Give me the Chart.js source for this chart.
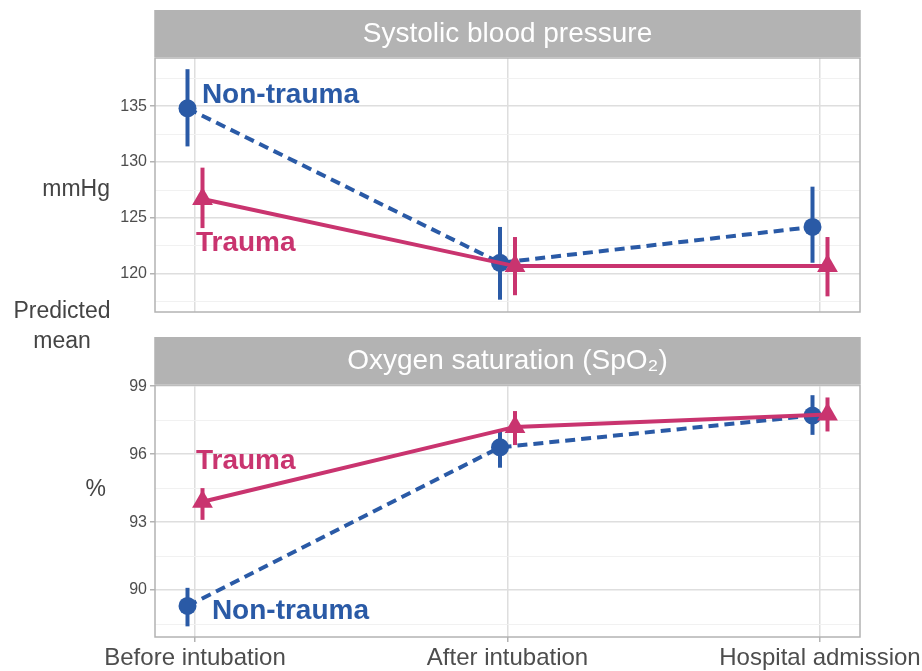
<!DOCTYPE html>
<html>
<head>
<meta charset="utf-8">
<script src="https://cdn.jsdelivr.net/npm/chart.js@4.4.1/dist/chart.umd.min.js"></script>
<style>
    html, body { margin: 0; padding: 0; background: #fff; }
    #wrap { position: relative; width: 922px; height: 671px; }
    #wrap canvas { position: absolute; left: 0; top: 0; }
</style>
</head>
<body>
<div id="wrap">
    <canvas id="sbpChart" width="922" height="671"></canvas>
    <canvas id="spo2Chart" width="922" height="671"></canvas>
</div>
<script>
// ==================== DATA ====================
const timepoints = ['Before intubation', 'After intubation', 'Hospital admission'];

// systolic blood pressure (mmHg)
const sbpNonTrauma   = [134.8, 121.0, 124.2];
const sbpNonTraumaLo = [131.4, 117.7, 121.0];
const sbpNonTraumaHi = [138.3, 124.2, 127.8];
const sbpTrauma      = [126.7, 120.7, 120.7];
const sbpTraumaLo    = [124.1, 118.1, 118.0];
const sbpTraumaHi    = [129.5, 123.3, 123.3];
const sbpTicks       = [120, 125, 130, 135];
const sbpMinorTicks  = [117.5, 122.5, 127.5, 132.5, 137.5];

// oxygen saturation (%)
const spo2NonTrauma   = [89.3, 96.3, 97.7];
const spo2NonTraumaLo = [88.4, 95.4, 96.85];
const spo2NonTraumaHi = [90.1, 97.1, 98.6];
const spo2Trauma      = [93.9, 97.2, 97.75];
const spo2TraumaLo    = [93.1, 96.4, 97.0];
const spo2TraumaHi    = [94.5, 97.9, 98.5];
const spo2Ticks       = [90, 93, 96, 99];
const spo2MinorTicks  = [88.5, 91.5, 94.5, 97.5];

// ==================== STYLE ====================
const BLUE = '#2A5AA6';
const PINK = '#C9346F';
const FONT = '"Liberation Sans", Arial, sans-serif';
const DODGE = 0.024;
const X_MIN = -0.128, X_MAX = 2.128;

// -------------------- helpers --------------------
function series(label, vals, lo, hi, color, style, radius, offset, dashed) {
    return {
        label: label,
        data: vals.map((v, i) => ({ x: i + offset, y: v })),
        errLo: lo, errHi: hi, offset: offset,
        showLine: true,
        borderColor: color,
        backgroundColor: color,
        borderWidth: 4,
        borderDash: dashed ? [10, 6] : [],
        pointStyle: style,
        pointRadius: radius,
        pointHoverRadius: radius,
        pointBorderWidth: 0,
        clip: false
    };
}

function yScale(min, max, major, minor) {
    const isMinor = (c) => c.tick && minor.includes(c.tick.value);
    return {
        type: 'linear', min: min, max: max,
        afterBuildTicks: (s) => { s.ticks = major.concat(minor).sort((a, b) => a - b).map(v => ({ value: v })); },
        afterFit: (s) => { s.width = 155; },
        border: { display: false },
        grid: {
            color: (c) => isMinor(c) ? '#F1F1F1' : '#DEDEDE',
            lineWidth: (c) => isMinor(c) ? 1 : 1.5,
            drawTicks: true, tickLength: 5,
            tickColor: (c) => isMinor(c) ? 'rgba(0,0,0,0)' : '#B3B3B3'
        },
        ticks: {
            autoSkip: false, padding: 3, color: '#4D4D4D',
            font: { family: FONT, size: 16 },
            callback: (v) => minor.includes(v) ? '' : v
        }
    };
}

function xScale(showLabels) {
    return {
        type: 'linear', min: X_MIN, max: X_MAX,
        afterBuildTicks: (s) => { s.ticks = timepoints.map((t, i) => ({ value: i })); },
        afterFit: (s) => {
            s.height = showLabels ? 34 : 0;
            // labels may hang past the panel, keep both panels the same width
            s.paddingLeft = 0;
            s.paddingRight = 0;
        },
        border: { display: false },
        grid: { color: '#DEDEDE', lineWidth: 1.5, drawTicks: showLabels, tickLength: 5, tickColor: '#B3B3B3' },
        ticks: {
            display: showLabels, autoSkip: false, maxRotation: 0, padding: 2,
            color: '#4D4D4D', font: { family: FONT, size: 24 },
            callback: (v, i) => timepoints[i]
        }
    };
}

// ==================== PANEL PLUGIN ====================
// strip, border, error bars, in-panel labels and axis titles
const panelPlugin = {
    id: 'panel',
    beforeDatasetsDraw(chart) {
        const ctx = chart.ctx, xs = chart.scales.x, ys = chart.scales.y;
        ctx.save();
        ctx.lineWidth = 4;
        chart.data.datasets.forEach(ds => {
            ctx.strokeStyle = ds.borderColor;
            ds.errLo.forEach((lo, i) => {
                const px = xs.getPixelForValue(i + ds.offset);
                ctx.beginPath();
                ctx.moveTo(px, ys.getPixelForValue(lo));
                ctx.lineTo(px, ys.getPixelForValue(ds.errHi[i]));
                ctx.stroke();
            });
        });
        ctx.restore();
    },
    afterDatasetsDraw(chart, args, opts) {
        const ctx = chart.ctx, a = chart.chartArea, xs = chart.scales.x, ys = chart.scales.y;
        ctx.save();
        // panel border
        ctx.strokeStyle = '#B3B3B3';
        ctx.lineWidth = 1.5;
        ctx.strokeRect(a.left, a.top, a.right - a.left, a.bottom - a.top);
        // strip
        ctx.fillStyle = '#B3B3B3';
        ctx.fillRect(a.left - 0.75, a.top - 48, a.right - a.left + 1.5, 47);
        ctx.fillStyle = '#FFFFFF';
        ctx.font = '28px ' + FONT;
        ctx.textAlign = 'center';
        ctx.textBaseline = 'middle';
        ctx.fillText(opts.title, (a.left + a.right) / 2, a.top - 24);
        // group labels
        ctx.font = 'bold 28px ' + FONT;
        ctx.textAlign = 'left';
        opts.labels.forEach(l => {
            ctx.fillStyle = l.color;
            ctx.fillText(l.text, xs.getPixelForValue(l.x), ys.getPixelForValue(l.y));
        });
        // axis titles
        ctx.fillStyle = '#444444';
        ctx.font = '23px ' + FONT;
        ctx.textAlign = 'right';
        ctx.fillText(opts.unit, opts.unitX, opts.unitY);
        if (opts.yTitle) {
            ctx.textAlign = 'center';
            opts.yTitle.forEach((line, i) => ctx.fillText(line, 62, 312 + i * 30));
        }
        ctx.restore();
    }
};

function makeChart(id, datasets, y, showX, pad, panelOpts) {
    return new Chart(document.getElementById(id), {
        type: 'scatter',
        data: { datasets: datasets },
        plugins: [panelPlugin],
        options: {
            responsive: false,
            animation: false,
            events: [],
            layout: { padding: pad },
            scales: { x: xScale(showX), y: y },
            plugins: { legend: { display: false }, tooltip: { enabled: false }, panel: panelOpts }
        }
    });
}

// ==================== CHARTS ====================
makeChart('sbpChart', [
    series('Trauma', sbpTrauma, sbpTraumaLo, sbpTraumaHi, PINK, 'triangle', 12, DODGE, false),
    series('Non-trauma', sbpNonTrauma, sbpNonTraumaLo, sbpNonTraumaHi, BLUE, 'circle', 9, -DODGE, true)
], yScale(116.6, 139.3, sbpTicks, sbpMinorTicks), false,
{ top: 58, right: 62, bottom: 359, left: 0 },
{
    title: 'Systolic blood pressure',
    labels: [
        { text: 'Non-trauma', x: 0.022, y: 136.0, color: BLUE },
        { text: 'Trauma', x: 0.003, y: 122.7, color: PINK }
    ],
    unit: 'mmHg', unitX: 110, unitY: 190,
    yTitle: ['Predicted', 'mean']
});

makeChart('spo2Chart', [
    series('Trauma', spo2Trauma, spo2TraumaLo, spo2TraumaHi, PINK, 'triangle', 12, DODGE, false),
    series('Non-trauma', spo2NonTrauma, spo2NonTraumaLo, spo2NonTraumaHi, BLUE, 'circle', 9, -DODGE, true)
], yScale(87.93, 99.05, spo2Ticks, spo2MinorTicks), true,
{ top: 385, right: 62, bottom: 0, left: 0 },
{
    title: 'Oxygen saturation (SpO\u2082)',
    labels: [
        { text: 'Trauma', x: 0.003, y: 95.7, color: PINK },
        { text: 'Non-trauma', x: 0.054, y: 89.07, color: BLUE }
    ],
    unit: '%', unitX: 106, unitY: 490
});
</script>
</body>
</html>
